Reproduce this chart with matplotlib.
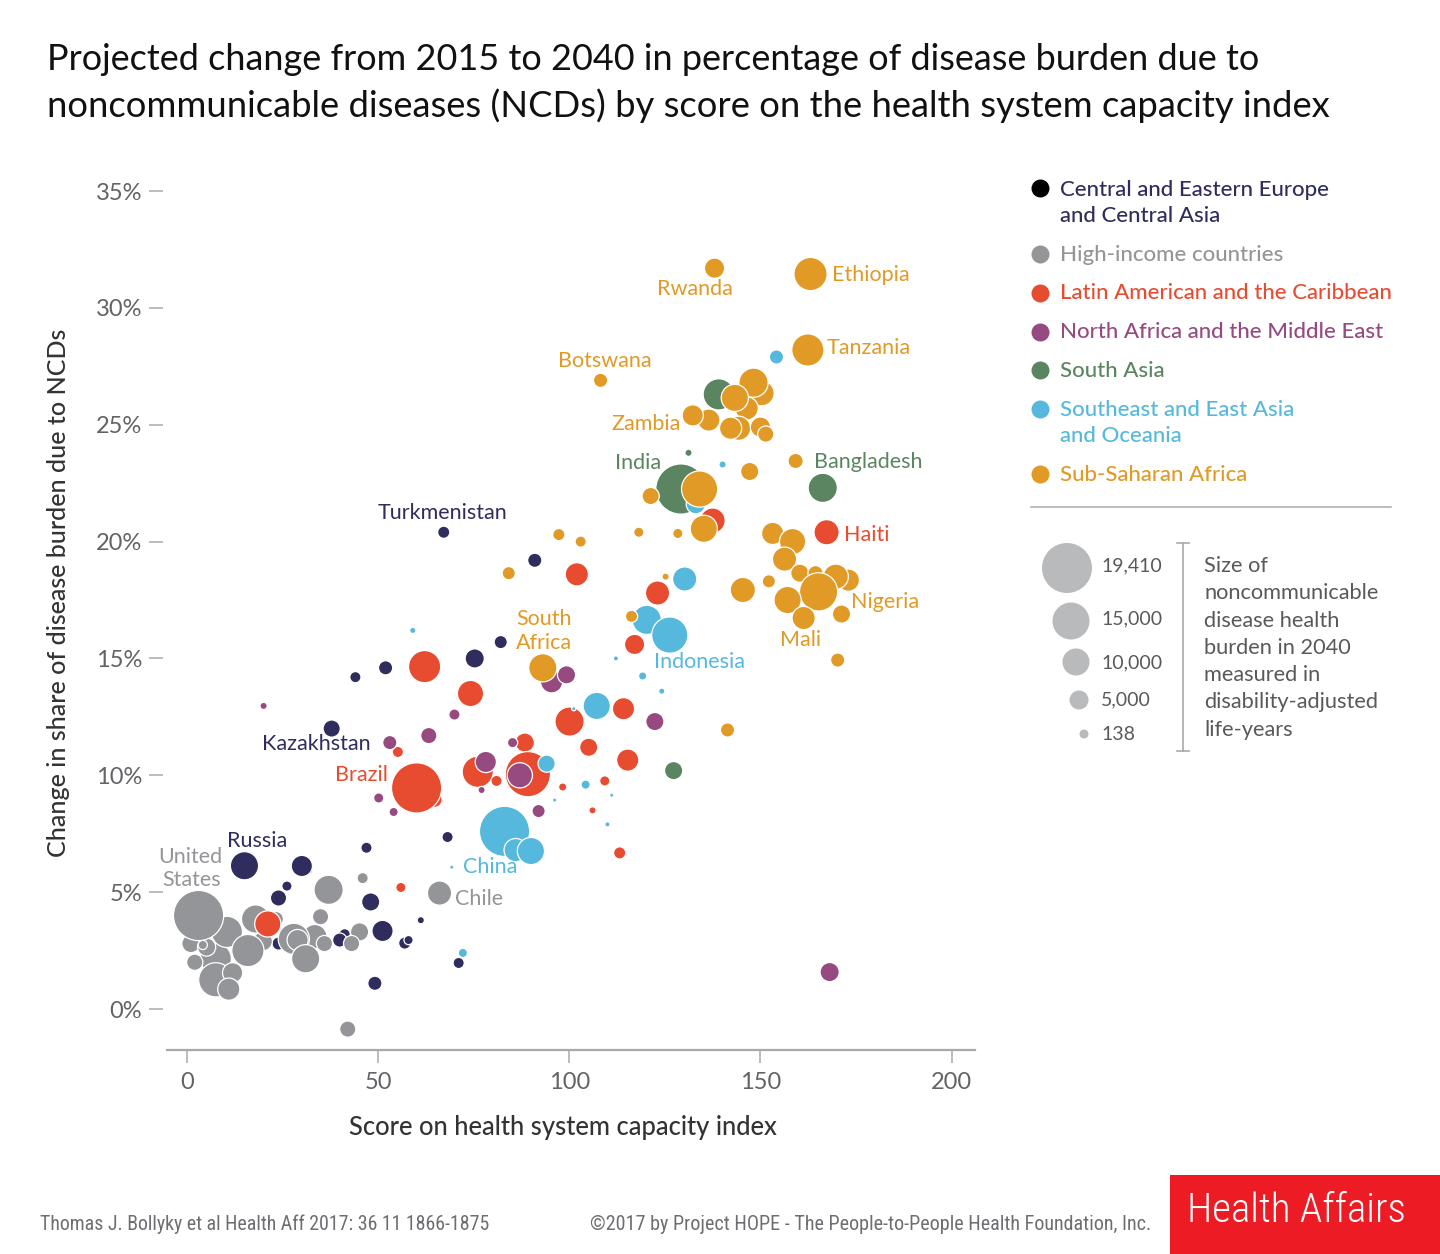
import matplotlib
matplotlib.use('Agg')
import matplotlib.pyplot as plt
import numpy as np

plt.rcParams['font.family'] = ['Lato', 'DejaVu Sans']

# Region order is also the drawing order
REGIONS = ['Central and Eastern Europe\nand Central Asia', 'High-income countries',
           'Latin American and the Caribbean', 'North Africa and the Middle East',
           'South Asia', 'Southeast and East Asia\nand Oceania', 'Sub-Saharan Africa']
COLORS = ['#2f2c5e', '#939598', '#e84c30', '#964a80', '#5a8560', '#55b8dc', '#e09a25']

# score, change in share (%), burden (DALYs)
navy_x = [15.1, 32, 30.1, 26.2, 24, 47, 48.1, 51.2, 41.3, 40, 57, 58, 61.2, 68.2, 71.1, 49.2, 24, 44.1, 52, 75.3, 82.1, 37.9, 67.2, 91]
navy_y = [6.13, 5.9, 6.12, 5.26, 4.75, 6.9, 4.58, 3.34, 3.2, 2.95, 2.82, 2.95, 3.8, 7.36, 1.97, 1.1, 2.8, 14.2, 14.6, 15, 15.7, 12, 20.4, 19.2]
navy_b = [5657, 200, 3105, 630, 1750, 776, 2240, 3105, 776, 1310, 940, 497, 280, 776, 776, 1310, 1100, 776, 1310, 2514, 1118, 1987, 940, 1310]

gray_x = [19.9, 23.3, 18, 7.6, 10.5, 1.1, 5.2, 4.2, 3.1, 2.1, 7.6, 12, 11, 16, 33.5, 28, 29, 36, 31.1, 35, 37.1, 45.2, 43.1, 46, 66.1, 42.1]
gray_y = [2.9, 3.85, 3.85, 2.15, 3.3, 2.8, 2.65, 2.74, 4, 2, 1.25, 1.55, 0.85, 2.5, 3.1, 3, 2.95, 2.8, 2.15, 3.95, 5.1, 3.3, 2.8, 5.6, 4.96, -0.86]
gray_b = [2514, 1520, 5660, 6986, 6986, 2240, 2240, 500, 18630, 1750, 8450, 2800, 3420, 7460, 4100, 7000, 3100, 1750, 5660, 1750, 6080, 2240, 1750, 776, 4100, 1750]

red_x = [65.6, 64.8, 60.1, 21.2, 56, 62.2, 74.2, 55.2, 76.1, 81, 88.4, 89.2, 98.3, 100.1, 105.1, 109.3, 106.1, 114.2, 115.3, 113.2, 117.1, 123.1, 102, 137.5, 167.3]
red_y = [8.9, 8.95, 9.46, 3.64, 5.2, 14.65, 13.5, 11, 10.15, 9.76, 11.4, 10.05, 9.5, 12.3, 11.2, 9.76, 8.5, 12.85, 10.65, 6.68, 15.6, 17.8, 18.6, 20.9, 20.4]
red_b = [776, 1520, 18630, 4850, 630, 7460, 4850, 776, 6986, 776, 2514, 15030, 380, 6084, 2240, 630, 280, 3420, 3420, 940, 2800, 4100, 3757, 4470, 4470]

purple_x = [20.1, 53.1, 63.3, 70, 50.2, 54.1, 78.2, 77.1, 85.2, 87.1, 92, 95.4, 99.3, 122.4, 168.1]
purple_y = [12.97, 11.4, 11.7, 12.6, 9.03, 8.43, 10.57, 9.37, 11.4, 10, 8.47, 14, 14.3, 12.3, 1.58]
purple_b = [280, 1310, 1750, 776, 630, 497, 3105, 280, 630, 4470, 1118, 3420, 2240, 2240, 2514]

green_x = [129.2, 139.1, 131.2, 166.3, 127.3]
green_y = [22.25, 26.3, 23.8, 22.3, 10.2]
green_b = [18630, 6986, 280, 6084, 2240]

blue_x = [83.1, 86, 90, 94.1, 104.3, 96.2, 111.1, 110, 69.3, 72.2, 59.1, 101.2, 107.2, 112.2, 119.2, 124.2, 120.3, 126.3, 130.2, 133.1, 140.1, 154.2]
blue_y = [7.6, 6.8, 6.76, 10.5, 9.6, 8.94, 9.15, 7.9, 6.07, 2.4, 16.2, 12.85, 12.97, 15, 14.25, 13.6, 16.65, 16, 18.4, 21.6, 23.3, 27.9]
blue_b = [18630, 3757, 5246, 1987, 497, 70, 70, 124, 70, 497, 194, 70, 5246, 124, 380, 194, 6084, 9500, 4100, 2514, 280, 1310]

orange_x = [138, 163.1, 162.4, 108.2, 150.3, 146.4, 148.2, 143.3, 136.5, 132.3, 144.3, 142.2, 150, 151.4, 147.2, 159.2, 121.3, 134.1, 135.2, 118.2, 128.4,
            153.2, 158.4, 156.3, 160.3, 164.4, 173, 169.7, 165.2, 157.1, 161.3, 171.2, 152.2, 145.4, 125.2, 116.3, 170.2, 141.4, 93.1, 84.2, 97.3, 103]
orange_y = [31.7, 31.45, 28.2, 26.9, 26.35, 25.7, 26.8, 26.15, 25.2, 25.4, 24.85, 24.85, 24.9, 24.6, 23, 23.45, 21.95, 22.25, 20.55, 20.4, 20.35,
            20.35, 20, 19.25, 18.65, 18.65, 18.35, 18.5, 17.85, 17.5, 16.73, 16.9, 18.3, 17.93, 18.5, 16.8, 14.93, 11.94, 14.6, 18.65, 20.3, 20]
orange_b = [2800, 7946, 7460, 1310, 4470, 3757, 6084, 5246, 3420, 3105, 4100, 3420, 2800, 1750, 2240, 1520, 1987, 9500, 5246, 630, 630,
            3420, 4850, 4100, 2240, 1520, 3420, 4470, 10620, 5246, 3757, 2240, 1118, 4470, 280, 940, 1310, 1310, 5657, 1118, 940, 776]

SERIES = [(navy_x, navy_y, navy_b), (gray_x, gray_y, gray_b), (red_x, red_y, red_b),
          (purple_x, purple_y, purple_b), (green_x, green_y, green_b),
          (blue_x, blue_y, blue_b), (orange_x, orange_y, orange_b)]

X_TICKS = [0, 50, 100, 150, 200]
Y_TICKS = [0, 5, 10, 15, 20, 25, 30, 35]

# name, region index, x px, y px, alignment
COUNTRY_LABELS = [
    ('Rwanda', 6, 695, 288, 'center'), ('Ethiopia', 6, 832, 274, 'left'),
    ('Tanzania', 6, 827, 347, 'left'), ('Botswana', 6, 605, 360, 'center'),
    ('Zambia', 6, 646, 423, 'center'), ('India', 4, 638, 462, 'center'),
    ('Bangladesh', 4, 814, 461, 'left'), ('Turkmenistan', 0, 442, 512, 'center'),
    ('Haiti', 2, 844, 534, 'left'), ('Nigeria', 6, 851, 601, 'left'),
    ('Mali', 6, 801, 639, 'center'), ('South', 6, 544, 618, 'center'),
    ('Africa', 6, 544, 642, 'center'), ('Indonesia', 5, 654, 661, 'left'),
    ('Kazakhstan', 0, 316, 743, 'center'), ('Brazil', 2, 388, 774, 'right'),
    ('Russia', 0, 257, 840, 'center'), ('United', 1, 190, 856, 'center'),
    ('States', 1, 192, 879, 'center'), ('China', 5, 463, 866, 'left'),
    ('Chile', 1, 455, 898, 'left'),
]

SIZE_LABELS = ['19,410', '15,000', '10,000', '5,000', '138']
SIZE_TEXT = ['Size of', 'noncommunicable', 'disease health', 'burden in 2040',
             'measured in', 'disability-adjusted', 'life-years']

W, H = 1440, 1254
PT = 0.72  # points per pixel at dpi 100
NARROW = ['Roboto Condensed', 'Liberation Sans Narrow', 'Roboto']


def px_size(d):
    return (d * PT) ** 2


fig = plt.figure(figsize=(W / 100, H / 100), dpi=100)

# --- main chart, box placed in pixels ---
ax = fig.add_axes([163 / W, 1 - 1050 / H, (975 - 163) / W, (1050 - 165) / H])
ax.set_xlim(-6.2, 206.1)
ax.set_ylim(-1.754, 36.115)
for s in ['top', 'right', 'left']:
    ax.spines[s].set_visible(False)
ax.spines['bottom'].set_color('#a8a9ad')
ax.spines['bottom'].set_linewidth(1.6)
ax.spines['bottom'].set_bounds(-5.15, 206.1)
ax.set_xticks(X_TICKS)
ax.set_yticks(Y_TICKS)
ax.set_yticklabels([f'{v}%' for v in Y_TICKS])
ax.tick_params(axis='x', length=9.5, width=1.1, color='#a8a9ad', labelsize=17, labelcolor='#626366', pad=6)
ax.tick_params(axis='y', length=10, width=1.1, color='#a8a9ad', labelsize=17, labelcolor='#626366', pad=5)

for (xs, ys, bs), color in zip(SERIES, COLORS):
    # scale: 19,410 is about 50 px wide, plus the white edge that eats into the fill
    diam = np.sqrt(np.array(bs) / 7.76) + 1.2
    ax.scatter(xs, ys, s=px_size(diam), color=color, edgecolors='white', linewidths=0.9, clip_on=False, zorder=3)

# --- everything else goes on an overlay in pixel coordinates ---
ov = fig.add_axes([0, 0, 1, 1], zorder=5)
ov.set_xlim(0, W)
ov.set_ylim(H, 0)
ov.axis('off')
ov.patch.set_alpha(0)


def put(x, y, s, size=14, color='#333333', ha='left', va='center', **kw):
    return ov.text(x, y + 1, s, fontsize=size, color=color, ha=ha, va=va, **kw)


put(47, 59, 'Projected change from 2015 to 2040 in percentage of disease burden due to', 25.9, '#111111')
put(47, 105, 'noncommunicable diseases (NCDs) by score on the health system capacity index', 26.2, '#111111')

put(59, 592, 'Change in share of disease burden due to NCDs', 18, '#333333', ha='center', rotation=90, weight='medium')
put(563, 1126, 'Score on health system capacity index', 18.4, '#333333', ha='center', weight='medium')

for name, idx, x, y, ha in COUNTRY_LABELS:
    put(x, y, name, 15.5, COLORS[idx], ha=ha)

# region legend
dot_y = [188, 254, 293, 332, 370, 409, 474]
text_y = [189, 254, 292, 331, 370, 409, 474]
for i, region in enumerate(REGIONS):
    ov.scatter([1040], [dot_y[i]], s=px_size(18), color='#000000' if i == 0 else COLORS[i], linewidths=0)
    for j, line in enumerate(region.split('\n')):
        put(1060, text_y[i] + j * 26, line, 16, COLORS[i], weight='medium')
ov.plot([1031, 1391], [507, 507], color='#aaaaaa', lw=1.1)

# size legend
size_x = [1067, 1071, 1076, 1079, 1084]
size_y = [568, 621, 662, 700, 734]
size_d = [50, 37, 27, 19, 9]
size_label_y = [565, 618, 662, 699, 733]
ov.scatter(size_x, size_y, s=[px_size(d) for d in size_d], color='#b9babc', linewidths=0)
for lab, y in zip(SIZE_LABELS, size_label_y):
    put(1101, y, lab, 14, '#58595b')
ov.plot([1183, 1183], [543, 751], color='#a8a9ad', lw=1.2)
ov.plot([1177, 1189], [543, 543], color='#a8a9ad', lw=1.2)
ov.plot([1177, 1189], [751, 751], color='#a8a9ad', lw=1.2)
for i, line in enumerate(SIZE_TEXT):
    put(1204, 565 + i * 27.3, line, 15.7, '#58595b')

# footer
put(40, 1223, 'Thomas J. Bollyky et al Health Aff 2017: 36 11 1866-1875', 14.28, '#6d6e71', family=NARROW)
put(590, 1223, '©2017 by Project HOPE - The People-to-People Health Foundation, Inc.', 14.5, '#6d6e71', family=NARROW)
ov.fill_between([1170, 1440], 1175, 1254, color='#ed1c24', linewidth=0)
put(1187, 1210, 'Health Affairs', 29.5, 'white', weight='light', family=['Roboto Condensed', 'Roboto'])

fig.savefig('out.png', dpi=100, facecolor='white')
